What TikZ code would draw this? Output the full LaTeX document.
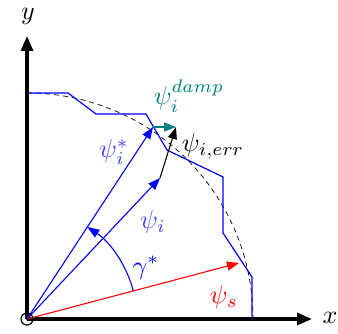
\documentclass[tikz,border=0pt]{standalone}
\usetikzlibrary{arrows.meta}
\begin{document}
\begin{tikzpicture}[x=1pt,y=-1pt,
  axis/.style={line width=3.2pt,-{Triangle[length=15pt,width=12pt]}},
  vec/.style={line width=1.1pt,-{Triangle[length=12pt,width=9pt]}},
  lbl/.style={scale=2.6,inner sep=0pt},
  poly/.style={blue,line width=1.2pt},
  dashcurve/.style={line width=0.7pt,dash pattern=on 5pt off 4pt}]
\useasboundingbox (0,0) rectangle (338,334);
\coordinate (O) at (27,319);
\coordinate (xe) at (312,319);
\coordinate (ye) at (27,36);
\coordinate (S) at (239,263);
\coordinate (I) at (160,178);
\coordinate (Is) at (153,127);
\coordinate (E) at (176,127);
% dashed arc
\draw[dashcurve] (27,93) arc[start angle=-90,end angle=0,radius=226];
% polygon
\draw[poly] (27,93) -- (68,93) -- (96,114) -- (146,114) -- (167,150) -- (223,177) -- (223,233) -- (252,277) -- (252,319);
% axes
\draw[axis] (O) -- (xe);
\draw[axis] (O) -- (ye);
\node[lbl] (xl) at (330,318) {$x$};
\node[lbl] (yl) at (28,16) {$y$};
% vectors
\draw[vec,red] (O) -- (S);
\draw[vec,blue] (O) -- (I);
\draw[vec,blue] (O) -- (Is);
\draw[vec,black] (I) -- (E);
\draw[vec,teal] (Is) -- (E);
% gamma arc
\draw[vec,blue] ([shift={(-14.9:110)}]O) arc[start angle=-14.9,end angle=-56.7,radius=110];
% labels
\node[lbl,red] (ls) at (224,297) {$\psi_s$};
\node[lbl,blue!75] (li) at (153,222) {$\psi_i$};
\node[lbl,blue!75] (lis) at (114,152) {$\psi_i^*$};
\node[lbl,blue] (lg) at (146,268) {$\gamma^*$};
\node[lbl] (le) at (213,146) {$\psi_{i,err}$};
\node[lbl,teal] (ld) at (189,96) {$\psi_i^{damp}$};
% origin marker
\node[circle,draw,line width=1.2pt,minimum size=12pt,inner sep=0pt] (oc) at (O) {};
\fill (O) circle (1.2pt);
\end{tikzpicture}
\end{document}
